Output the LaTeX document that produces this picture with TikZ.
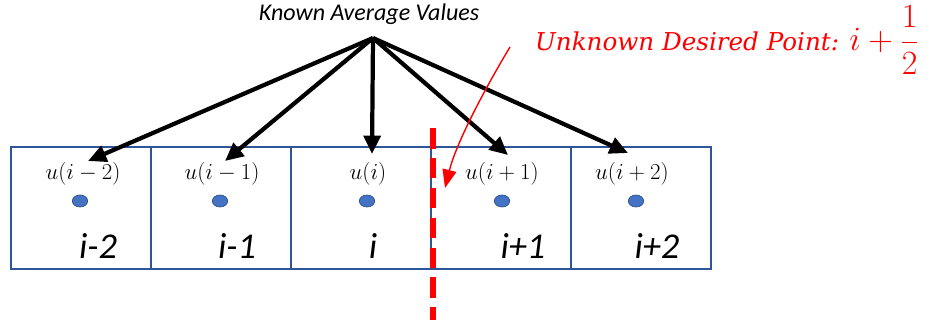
\RequirePackage{fix-cm}
\documentclass[tikz,border=0pt]{standalone}
\usepackage{amsmath}
\usepackage{fontspec}
\newfontfamily\calibri{Carlito}
\newfontfamily\cambr{DejaVu Serif}
\usepackage{tikz}
\usetikzlibrary{positioning,calc,shapes.geometric,arrows.meta}
\definecolor{cellblue}{HTML}{2F5597}
\definecolor{dotblue}{HTML}{4472C4}
\definecolor{dotedge}{HTML}{2F528F}
\tikzstyle{cell} = [draw=cellblue, line width=1.5pt, minimum width=4.2cm, minimum height=3.66cm, outer sep=0pt, inner sep=0pt]
\tikzstyle{ulabel} = [font=\fontsize{19.5}{22}\selectfont, inner sep=1pt]
\tikzstyle{dot} = [ellipse, draw=dotedge, fill=dotblue, line width=0.6pt, minimum width=0.46cm, minimum height=0.36cm, inner sep=0pt]
\tikzstyle{bigl} = [font=\calibri\itshape\fontsize{31}{34}\selectfont]
\tikzstyle{arrow} = [-{Triangle[length=0.55cm,width=0.5cm]}, line width=3.6pt]
\tikzstyle{redarrow} = [-{Triangle[length=0.55cm,width=0.42cm]}, red, line width=1.2pt]
\tikzstyle{cutline} = [red, line width=5.5pt, dash pattern=on 17.5pt off 8pt]

\begin{document}
\begin{tikzpicture}[x=0.03cm, y=-0.03cm, node distance=0pt]
    \useasboundingbox (0,0) rectangle (940,323);
    % Cells
    \node[cell] (c1) at (81,208) {};
    \node[cell, right=of c1] (c2) {};
    \node[cell, right=of c2] (c3) {};
    \node[cell, right=of c3] (c4) {};
    \node[cell, right=of c4] (c5) {};
    % Cell averages
    \node[ulabel] (u1) at (83,174) {$u(i-2)$};
    \node[ulabel] (u2) at (222,174) {$u(i-1)$};
    \node[ulabel] (u3) at (368,174) {$u(i)$};
    \node[ulabel] (u4) at (502,174) {$u(i+1)$};
    \node[ulabel] (u5) at (632,174) {$u(i+2)$};
    \node[dot] (d1) at (80,201) {};
    \node[dot] (d2) at (220,201) {};
    \node[dot] (d3) at (367,201) {};
    \node[dot] (d4) at (502,201) {};
    \node[dot] (d5) at (636,201) {};
    % Cell indices
    \node[bigl] (n1) at (98,246) {i-2};
    \node[bigl] (n2) at (237,246) {i-1};
    \node[bigl] (n3) at (373,246) {i};
    \node[bigl] (n4) at (523,246) {i+1};
    \node[bigl] (n5) at (657,246) {i+2};
    % Labels
    \node[font=\calibri\itshape\fontsize{20.5}{22}\selectfont] (known) at (369,14) {Known Average Values};
    \node[anchor=west, inner sep=0pt, text=red, font=\cambr\itshape\fontsize{21}{24}\selectfont] (unk) at (535,40) {Unknown Desired Point: {\fontsize{29}{32}\selectfont$i+\dfrac{1}{2}$}};
    % Arrows
    \coordinate (src) at (373,38);
    \draw[arrow] (src) -- ($(u1.center)+(5,-13)$);
    \draw[arrow] (src) -- ($(u2.center)+(3,-13)$);
    \draw[arrow] (src) -- ($(u3.center)+(4,-20)$);
    \draw[arrow] (src) -- ($(u4.center)+(6,-19)$);
    \draw[arrow] (src) -- ($(u5.center)+(-4,-21)$);
    % Interface
    \coordinate (cuttop) at (433,128);
    \coordinate (cutbot) at (433,320);
    \coordinate (redtip) at (445,188);
    \draw[cutline] (cuttop) -- (cutbot);
    \draw[redarrow] ($(unk.west)+(-25,7)$) .. controls (490,80) and (457,140) .. (redtip);
\end{tikzpicture}
\end{document}
